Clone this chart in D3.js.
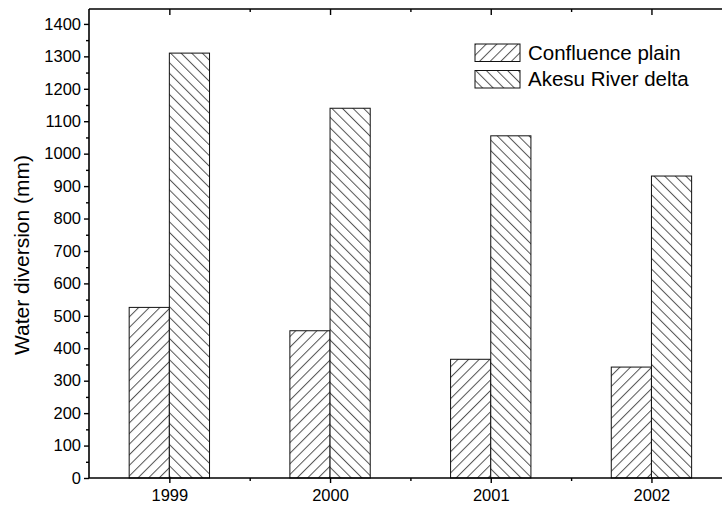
<!DOCTYPE html>
<html>
<head>
<meta charset="utf-8">
<script src="https://cdn.jsdelivr.net/npm/d3@7/dist/d3.min.js"></script>
<style>
  html, body { margin: 0; padding: 0; background: #fff; }
  svg { display: block; font-family: "Liberation Sans", Arial, sans-serif; }
</style>
</head>
<body>
<svg id="chart" width="722" height="505"></svg>
<script>
const years = [1999, 2000, 2001, 2002];
const seriesNames = ["Confluence plain", "Akesu River delta"];
const confluence = [526, 454, 366, 342];
const akesu = [1310, 1140, 1055, 931];
const yTicks = [0, 100, 200, 300, 400, 500, 600, 700, 800, 900, 1000, 1100, 1200, 1300, 1400];
const yMinorTicks = d3.range(50, 1450, 100);
const xMinorTicks = [1999.5, 2000.5, 2001.5];

(function () {
const svg = d3.select("#chart");
const mLeft = 89, mTop = 9, mBottom = 478;
const x = d3.scaleLinear().domain([1998.5, 2002.5]).range([mLeft, mLeft + 4 * 160.7]);
const y = d3.scaleLinear().domain([0, 1446]).range([mBottom, mTop]);
const mRight = x(2002.5);
const barW = 0.25;

const defs = svg.append("defs");
function hatch(id, angle) {
  const p = defs.append("pattern")
    .attr("id", id).attr("patternUnits", "userSpaceOnUse")
    .attr("width", 7.5).attr("height", 10)
    .attr("patternTransform", `rotate(${angle})`);
  p.append("rect").attr("width", 7.5).attr("height", 10).attr("fill", "#fff");
  p.append("line").attr("x1", 0.5).attr("y1", 0).attr("x2", 0.5).attr("y2", 10)
    .attr("stroke", "#555").attr("stroke-width", 1);
}
hatch("fwd", 45);
hatch("back", -45);

const series = [
  { name: seriesNames[0], values: confluence, offset: -barW, fill: "url(#fwd)" },
  { name: seriesNames[1], values: akesu, offset: 0, fill: "url(#back)" }
];

series.forEach(s => {
  svg.append("g").selectAll("rect").data(years).join("rect")
    .attr("x", (d) => x(d + s.offset))
    .attr("width", x(barW) - x(0))
    .attr("y", (d, i) => y(s.values[i]))
    .attr("height", (d, i) => y(0) - y(s.values[i]))
    .attr("fill", s.fill)
    .attr("stroke", "#111").attr("stroke-width", 1);
});

const axisStyle = g => {
  g.selectAll(".domain").attr("stroke", "#000").attr("stroke-width", 1.6);
  g.selectAll(".tick line").attr("stroke", "#000").attr("stroke-width", 1.4);
  g.selectAll("text").attr("fill", "#000").style("font-size", "16.5px")
    .style("font-family", '"Liberation Sans", Arial, sans-serif');
};

const yAxis = svg.append("g").attr("transform", `translate(${mLeft},0)`)
  .call(d3.axisLeft(y).tickValues(yTicks).tickSize(5).tickPadding(3).tickFormat(d3.format("d")))
  .call(axisStyle);
yAxis.select(".domain").attr("d", `M0,${mBottom}V${mTop}`);
svg.append("g").attr("transform", `translate(${mLeft},0)`)
  .call(d3.axisLeft(y).tickValues(yMinorTicks).tickSize(3).tickFormat(""))
  .call(axisStyle).select(".domain").remove();

const xAxis = svg.append("g").attr("transform", `translate(0,${mBottom})`)
  .call(d3.axisBottom(x).tickValues(years).tickSize(5).tickPadding(6).tickFormat(d3.format("d")))
  .call(axisStyle);
xAxis.select(".domain").attr("d", `M${mLeft},0H${mRight}`);
svg.append("g").attr("transform", `translate(0,${mBottom})`)
  .call(d3.axisBottom(x).tickValues(xMinorTicks).tickSize(3).tickFormat(""))
  .call(axisStyle).select(".domain").remove();

const xTop = svg.append("g").attr("transform", `translate(0,${mTop})`)
  .call(d3.axisBottom(x).tickValues(years).tickSize(6).tickFormat(""))
  .call(axisStyle);
xTop.select(".domain").attr("d", `M${mLeft},0H${mRight}`);
svg.append("g").attr("transform", `translate(0,${mTop})`)
  .call(d3.axisBottom(x).tickValues(xMinorTicks).tickSize(3).tickFormat(""))
  .call(axisStyle).select(".domain").remove();

svg.append("g").attr("transform", `translate(${mRight},0)`)
  .call(d3.axisLeft(y).tickValues(yTicks).tickSize(5).tickFormat(""))
  .call(axisStyle).select(".domain").attr("d", `M0,${mBottom}V${mTop}`);

svg.append("text")
  .attr("transform", `translate(29,255) rotate(-90)`)
  .attr("text-anchor", "middle")
  .style("font-size", "21px").attr("fill", "#000")
  .text("Water diversion (mm)");

const legend = svg.append("g").attr("transform", "translate(475,44)");
series.forEach((s, i) => {
  const g = legend.append("g").attr("transform", `translate(0,${i * 26.5})`);
  g.append("rect").attr("x", 0).attr("y", 0).attr("width", 45).attr("height", 17.5)
    .attr("fill", s.fill).attr("stroke", "#111").attr("stroke-width", 1);
  g.append("text").attr("x", 53).attr("y", 15.5)
    .style("font-size", "20.5px").attr("fill", "#000").text(s.name);
});
})();
</script>
</body>
</html>
